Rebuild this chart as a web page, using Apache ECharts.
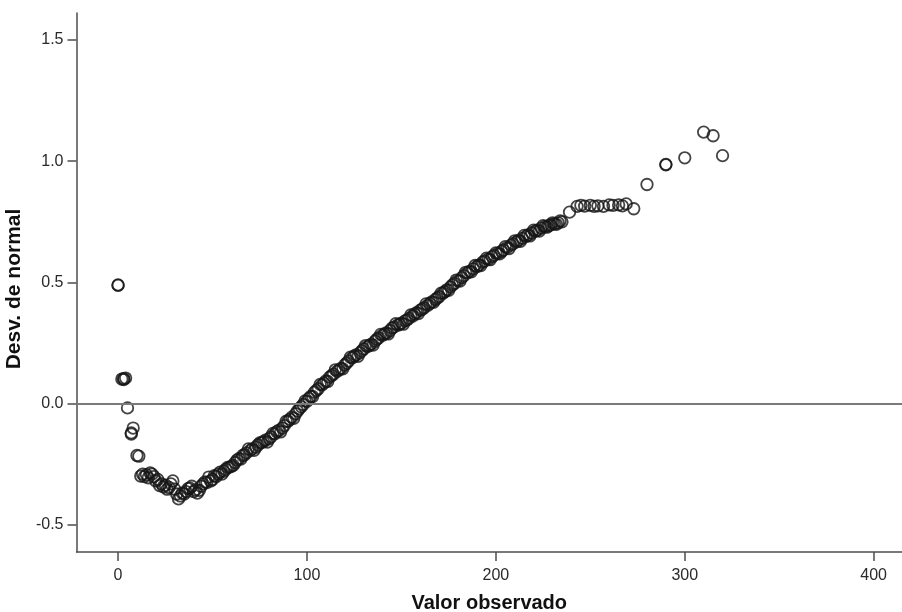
<!DOCTYPE html>
<html>
<head>
<meta charset="utf-8">
<title>Desv. de normal</title>
<script src="https://cdn.jsdelivr.net/npm/echarts@6/dist/echarts.min.js"></script>
<style>
  html, body { margin: 0; padding: 0; background: #fff; }
  #chart { width: 902px; height: 612px; }
</style>
</head>
<body>
<div id="chart"></div>
<script>
// Observed values (x) and their deviation from the normal line (y)
const observedValues = [
  0, 0, 2, 3, 3, 4, 5, 7, 7, 8, 10, 11,
  12, 13, 14, 15, 16, 18, 19, 20, 21, 22, 23, 24, 25, 27, 28, 29,
  30, 31, 32, 33, 34, 36, 37, 38, 40, 41, 43, 44, 45, 46, 48, 49,
  50, 52, 53, 54, 56, 57, 59, 60, 62, 63, 64, 66, 67, 68, 70, 71,
  73, 74, 76, 77, 78, 80, 81, 83, 84, 85, 87, 88, 90, 91, 92, 94,
  95, 96, 97, 98, 100, 101, 102, 104, 105, 106, 108, 109, 110, 112, 113, 114,
  116, 117, 118, 120, 121, 122, 124, 125, 126, 128, 129, 130, 132, 133, 134, 136,
  137, 138, 140, 141, 142, 144, 145, 146, 148, 149, 150, 152, 153, 154, 156, 157,
  158, 160, 161, 162, 164, 165, 166, 168, 169, 170, 172, 173, 174, 176, 177, 178,
  180, 182, 183, 185, 186, 188, 190, 191, 193, 194, 196, 198, 199, 201, 203, 204,
  206, 208, 209, 211, 212, 214, 216, 217, 219, 221, 222, 224, 226, 228, 229, 231,
  233, 235, 239, 243, 245, 247, 250, 252, 254, 257, 260, 262, 265, 267, 269, 273,
  280, 290, 290, 300, 310, 315, 320,
  17, 26, 35, 39, 42, 47, 51, 55, 58, 61, 65, 69, 72, 75, 79, 82,
  86, 89, 93, 99, 103, 107, 111, 115, 119, 123, 127, 131, 135, 139, 143, 147,
  151, 155, 159, 163, 167, 171, 175, 179, 181, 184, 187, 189, 192, 195, 197, 200,
  202, 205, 207, 210, 213, 215, 218, 220, 223, 225, 227, 230, 232, 234
];
const normalDeviation = [
  0.488, 0.490, 0.102, 0.104, 0.100, 0.106, -0.017, -0.120, -0.125, -0.100, -0.213, -0.216,
  -0.298, -0.290, -0.300, -0.292, -0.305, -0.290, -0.300, -0.318, -0.312, -0.337, -0.330, -0.342, -0.335, -0.345, -0.330, -0.318,
  -0.352, -0.372, -0.392, -0.380, -0.368, -0.362, -0.350, -0.348, -0.362, -0.355, -0.357, -0.340, -0.330, -0.322, -0.302, -0.318,
  -0.312, -0.300, -0.290, -0.282, -0.278, -0.270, -0.261, -0.258, -0.242, -0.232, -0.226, -0.213, -0.210, -0.202, -0.192, -0.186,
  -0.179, -0.170, -0.160, -0.156, -0.150, -0.144, -0.136, -0.124, -0.115, -0.110, -0.100, -0.090, -0.072, -0.064, -0.055, -0.041,
  -0.030, -0.020, -0.012, -0.003, 0.010, 0.022, 0.030, 0.048, 0.055, 0.062, 0.078, 0.085, 0.094, 0.110, 0.116, 0.122,
  0.134, 0.140, 0.146, 0.160, 0.168, 0.176, 0.190, 0.196, 0.202, 0.210, 0.218, 0.226, 0.236, 0.240, 0.246, 0.258,
  0.266, 0.272, 0.282, 0.288, 0.292, 0.302, 0.312, 0.316, 0.324, 0.328, 0.332, 0.342, 0.346, 0.352, 0.362, 0.370,
  0.376, 0.386, 0.390, 0.396, 0.406, 0.414, 0.420, 0.430, 0.436, 0.442, 0.456, 0.462, 0.470, 0.482, 0.490, 0.496,
  0.508, 0.520, 0.528, 0.540, 0.546, 0.556, 0.566, 0.572, 0.584, 0.588, 0.596, 0.606, 0.612, 0.620, 0.628, 0.634,
  0.644, 0.654, 0.660, 0.668, 0.674, 0.682, 0.690, 0.696, 0.704, 0.712, 0.716, 0.724, 0.730, 0.734, 0.738, 0.742,
  0.746, 0.750, 0.790, 0.814, 0.818, 0.815, 0.818, 0.814, 0.816, 0.814, 0.820, 0.818, 0.820, 0.816, 0.824, 0.804,
  0.904, 0.985, 0.987, 1.014, 1.120, 1.105, 1.023,
  -0.285, -0.352, -0.372, -0.340, -0.368, -0.325, -0.296, -0.290, -0.262, -0.254, -0.228, -0.186, -0.192, -0.161, -0.158, -0.122,
  -0.116, -0.072, -0.060, 0.012, 0.030, 0.080, 0.092, 0.140, 0.144, 0.192, 0.196, 0.240, 0.242, 0.286, 0.288, 0.330,
  0.328, 0.366, 0.372, 0.412, 0.418, 0.456, 0.468, 0.510, 0.506, 0.542, 0.544, 0.570, 0.570, 0.600, 0.594, 0.622,
  0.618, 0.648, 0.640, 0.672, 0.670, 0.694, 0.692, 0.716, 0.712, 0.734, 0.728, 0.746, 0.740, 0.754
];

// Tick positions shown on each axis
const xTicks = [0, 100, 200, 300, 400];
const yTicks = [-0.5, 0.0, 0.5, 1.0, 1.5];

const xTitle = 'Valor observado';
const yTitle = 'Desv. de normal';

const points = observedValues.map((v, i) => [v, normalDeviation[i]]);

const axisColor = '#4d4d4d';
const fontFamily = '"Liberation Sans", Arial, sans-serif';

const chart = echarts.init(document.getElementById('chart'), null, { renderer: 'canvas' });
chart.setOption({
  animation: false,
  backgroundColor: '#fff',
  grid: { left: 76.5, right: 0, top: 13, bottom: 60, containLabel: false, outerBoundsMode: 'none' },
  xAxis: {
    type: 'value',
    min: -22,
    max: 415,
    name: xTitle,
    nameLocation: 'middle',
    nameGap: 41,
    nameTextStyle: { fontFamily, fontSize: 20, fontWeight: 'bold', color: '#111' },
    splitLine: { show: false },
    axisLine: { show: true, onZero: false, lineStyle: { color: axisColor, width: 1.5 } },
    axisTick: { show: true, inside: false, length: 9, customValues: xTicks, lineStyle: { color: axisColor, width: 1.5 } },
    axisLabel: { customValues: xTicks, margin: 16, fontFamily, fontSize: 16, color: '#2a2a2a', showMinLabel: true, showMaxLabel: true }
  },
  yAxis: {
    type: 'value',
    min: -0.611,
    max: 1.611,
    name: yTitle,
    nameLocation: 'middle',
    nameGap: 45,
    nameTextStyle: { fontFamily, fontSize: 21, fontWeight: 'bold', color: '#111', padding: [0, 13, 0, 0] },
    splitLine: { show: false },
    axisLine: { show: true, onZero: false, lineStyle: { color: axisColor, width: 1.5 } },
    axisTick: { show: true, inside: false, length: 9, customValues: yTicks, lineStyle: { color: axisColor, width: 1.5 } },
    axisLabel: {
      customValues: yTicks, margin: 13, fontFamily, fontSize: 16, color: '#2a2a2a',
      formatter: (v) => v.toFixed(1)
    }
  },
  series: [{
    type: 'scatter',
    data: points,
    symbol: 'circle',
    symbolSize: 11.5,
    itemStyle: { color: 'rgba(255,255,255,0)', borderColor: '#151515', borderWidth: 1.8 },
    markLine: {
      silent: true,
      symbol: ['none', 'none'],
      label: { show: false },
      lineStyle: { color: '#7a7a7a', width: 2, type: 'solid' },
      data: [{ yAxis: 0 }]
    },
    z: 3
  }]
});
</script>
</body>
</html>
